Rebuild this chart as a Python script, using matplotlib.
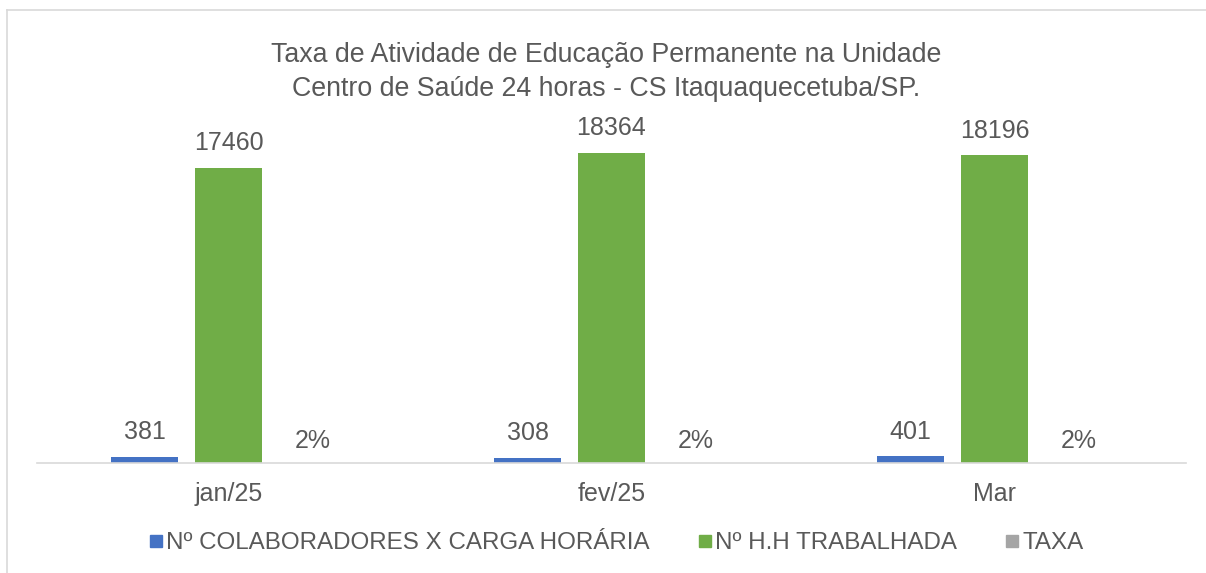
import matplotlib
matplotlib.use("Agg")
from matplotlib import pyplot as plt
from matplotlib.lines import Line2D
import numpy as np

plt.rcParams['font.family'] = ['Liberation Sans', 'DejaVu Sans']

# data
months = ['jan/25', 'fev/25', 'Mar']
colaboradores = [381, 308, 401]
hh_trabalhada = [17460, 18364, 18196]
taxa = [0.02, 0.02, 0.02]

series_names = ['Nº COLABORADORES X CARGA HORÁRIA', 'Nº H.H TRABALHADA', 'TAXA']
colors = ['#4472C4', '#70AD47', '#A5A5A5']
text_color = '#595959'

fig = plt.figure(figsize=(12.06, 5.73), dpi=100)
ax = fig.add_axes([37 / 1206, 1 - 463 / 573, (1186 - 37) / 1206, 338 / 573])

x = np.arange(len(months))
width = 0.175
step = 0.219

b1 = ax.bar(x - step, colaboradores, width, color=colors[0])
b2 = ax.bar(x, hh_trabalhada, width, color=colors[1])
b3 = ax.bar(x + step, taxa, width, color=colors[2])

for bars, vals, fmt, pad in [(b1, colaboradores, '{:d}', 9), (b2, hh_trabalhada, '{:d}', 9),
                             (b3, taxa, '{:.0%}', 7)]:
    labels = [fmt.format(v) for v in vals]
    ax.bar_label(bars, labels=labels, padding=pad, fontsize=18, color=text_color)

ax.set_xlim(-0.5, 2.5)
ax.set_ylim(0, 20000)
ax.set_xticks(x)
ax.set_xticklabels(months, fontsize=18, color=text_color)
ax.tick_params(axis='x', length=0, pad=14)
ax.set_yticks([])
for s in ['top', 'right', 'left']:
    ax.spines[s].set_visible(False)
ax.spines['bottom'].set_color('#D9D9D9')
ax.spines['bottom'].set_linewidth(1.2)

fig.text(0.503, 1 - 72 / 573,
         'Taxa de Atividade de Educação Permanente na Unidade\n'
         'Centro de Saúde 24 horas - CS Itaquaquecetuba/SP.',
         ha='center', va='center', fontsize=19.3, color=text_color, linespacing=1.45)

handles = [Line2D([], [], marker='s', linestyle='none', markersize=8, color=c)
           for c in colors]
fig.legend(handles, series_names, loc='center', bbox_to_anchor=(0.511, 1 - 543 / 573),
           ncol=3, frameon=False, fontsize=17.4, labelcolor=text_color,
           handlelength=0.6, handletextpad=0.1, columnspacing=2.0)

# chart frame (top and left edges visible in the reference)
fig.add_artist(Line2D([7 / 1206, 7 / 1206], [0, 1 - 10 / 573], transform=fig.transFigure,
                      color='#D9D9D9', linewidth=1.2))
fig.add_artist(Line2D([7 / 1206, 1], [1 - 10 / 573, 1 - 10 / 573], transform=fig.transFigure,
                      color='#D9D9D9', linewidth=1.2))

fig.savefig('out.png', dpi=100)
